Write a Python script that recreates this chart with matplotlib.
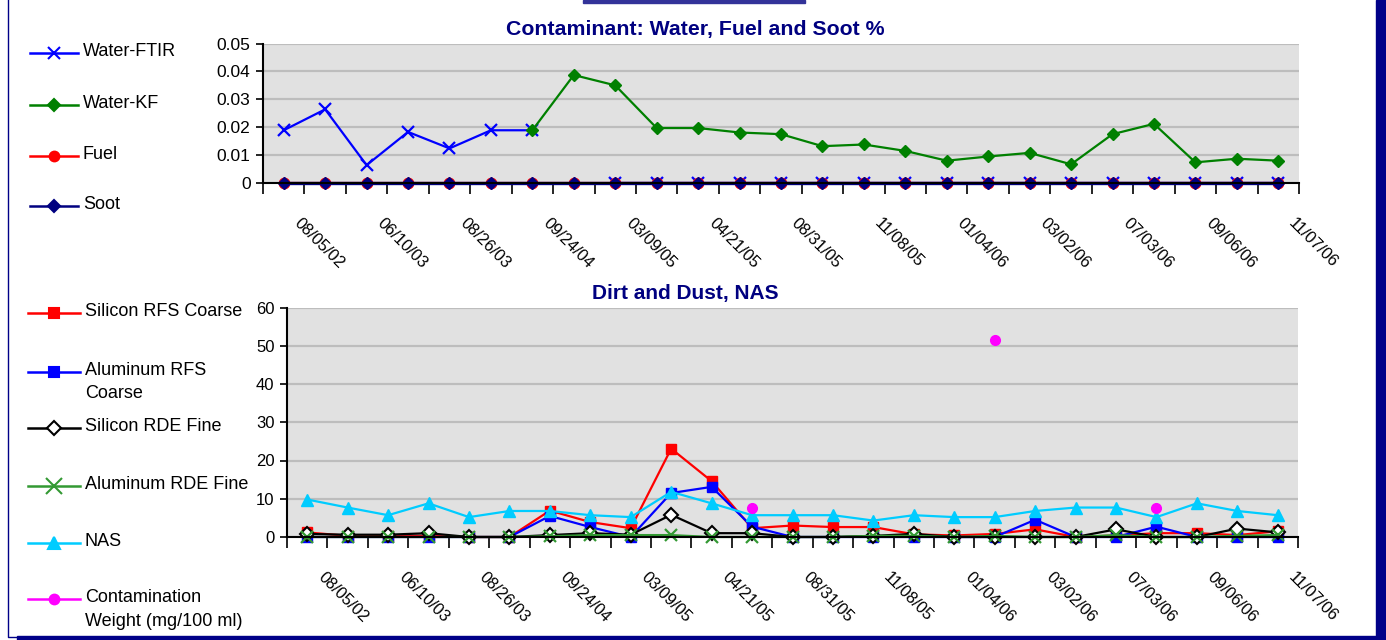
import numpy as np
import matplotlib.pyplot as plt
from matplotlib.lines import Line2D
from matplotlib.patches import Rectangle
from matplotlib.transforms import ScaledTranslation

plt.rcParams['font.family'] = ['Liberation Sans', 'DejaVu Sans']

nan = np.nan

# sample index 0..24, every second one carries a date label
date_labels = ['08/05/02', '06/10/03', '08/26/03', '09/24/04', '03/09/05', '04/21/05',
               '08/31/05', '11/08/05', '01/04/06', '03/02/06', '07/03/06', '09/06/06', '11/07/06']
samples = np.arange(25)

# --- top chart: contaminant %
water_ftir = [0.0189, 0.0264, 0.0064, 0.0183, 0.0124, 0.0189, 0.0189, nan, 0, 0, 0, 0, 0,
              0, 0, 0, 0, 0, 0, 0, 0, 0, 0, 0, 0]
water_kf = [nan, nan, nan, nan, nan, nan, 0.0189, 0.0387, 0.0350, 0.0197, 0.0197, 0.0181, 0.0175,
            0.0132, 0.0138, 0.0115, 0.0080, 0.0095, 0.0108, 0.0067, 0.0175, 0.0212, 0.0074, 0.0087, 0.0080]
fuel = [0, 0, 0, 0, 0, 0, 0, 0, 0, 0, 0, 0, 0, 0, 0, 0, 0, 0, 0, 0, 0, 0, 0, 0, 0]
soot = [0, 0, 0, 0, 0, 0, 0, 0, 0, 0, 0, 0, 0, 0, 0, 0, 0, 0, 0, 0, 0, 0, 0, 0, 0]
top_yticks = [0, 0.01, 0.02, 0.03, 0.04, 0.05]
top_ylabels = ['0', '0.01', '0.02', '0.03', '0.04', '0.05']

# --- bottom chart: dirt and dust
si_rfs = [1.2, 0.3, 0.3, 0.3, 0, 0, 6.9, 3.9, 2.3, 23.1, 14.6, 2.3, 3.0,
          2.6, 2.6, 0.7, 0.4, 0.8, 2.0, 0, 0.4, 1.0, 1.0, 0.5, 1.5]
al_rfs = [0, 0, 0, 0, 0, 0, 5.5, 2.6, 0, 11.5, 13.1, 2.7, 0,
          0, 0, 0, 0, 0, 4.5, 0, 0, 2.7, 0, 0, 0]
si_rde = [0.8, 0.6, 0.6, 1.0, 0, 0, 0.5, 1.0, 0.6, 5.8, 1.0, 1.0, 0,
          0, 0.3, 0.8, 0, 0, 0, 0, 2.0, 0, 0, 2.2, 1.2]
al_rde = [0, 0, 0, 0, 0, 0, 0.2, 0.5, 0.5, 0.5, 0, 0, 0,
          0, 0.3, 0.3, 0, 0.3, 0, 0, 0.5, 0, 0, 0.3, 0.5]
nas = [9.8, 7.7, 5.7, 8.8, 5.2, 6.8, 6.8, 5.7, 5.2, 11.8, 8.8, 5.7, 5.7,
       5.7, 4.3, 5.7, 5.2, 5.2, 6.8, 7.7, 7.7, 5.2, 8.8, 6.8, 5.7]
contam = [nan, nan, nan, nan, nan, nan, nan, nan, nan, nan, nan, 7.7, nan,
          nan, nan, nan, nan, 51.4, nan, nan, nan, 7.7, nan, nan, nan]
bot_yticks = [0, 10, 20, 30, 40, 50, 60]

W, H = 1386, 640
fig = plt.figure(figsize=(W / 100, H / 100), dpi=100)


def px_axes(x0, y0, x1, y1):
    return fig.add_axes([x0 / W, 1 - y1 / H, (x1 - x0) / W, (y1 - y0) / H])


def style_axes(ax, yticks, ylabels, ysize):
    ax.set_facecolor('#e1e1e1')
    ax.set_xlim(-0.5, 24.5)
    ax.set_ylim(yticks[0], yticks[-1])
    ax.set_yticks(yticks, ylabels, fontsize=ysize)
    ax.grid(axis='y', color='#bdbdbd', lw=1.6)
    ax.set_axisbelow(True)
    for s in ['top', 'right']:
        ax.spines[s].set_visible(False)
    ax.spines['left'].set_linewidth(1.5)
    ax.spines['bottom'].set_linewidth(1.5)
    ax.tick_params(axis='y', direction='out', length=5, width=1.2, pad=4)
    # tick marks between categories, labels on every second category
    ax.set_xticks(np.arange(-0.5, 25, 1), [''] * 26)
    ax.tick_params(axis='x', which='major', direction='out', length=8, width=1.2)
    ax.set_xticks(samples[::2], date_labels, minor=True, rotation=-45,
                  ha='left', va='center', rotation_mode='anchor', fontsize=11.8)
    ax.tick_params(axis='x', which='minor', length=0, pad=27)
    off = ScaledTranslation(0.13, 0, fig.dpi_scale_trans)
    for lab in ax.get_xticklabels(minor=True):
        lab.set_transform(lab.get_transform() + off)


# top chart
ax1 = px_axes(263, 43.5, 1299, 183)
style_axes(ax1, top_yticks, top_ylabels, 12.5)
ax1.plot(samples, water_ftir, color='#0000ff', lw=1.6, marker='x', ms=8, mew=1.6)
ax1.plot(samples, water_kf, color='#008000', lw=1.6, marker='D', ms=6.5)
ax1.plot(samples, fuel, color='#ff0000', lw=1.6, marker='o', ms=7.5, clip_on=False)
ax1.plot(samples, soot, color='#000080', lw=2.4, marker='D', ms=6.5, clip_on=False)

# bottom chart
ax2 = px_axes(287, 307.5, 1298, 537)
style_axes(ax2, bot_yticks, [str(v) for v in bot_yticks], 12)
ax2.plot(samples, si_rfs, color='#ff0000', lw=1.6, marker='s', ms=7, clip_on=False)
ax2.plot(samples, al_rfs, color='#0000ff', lw=1.6, marker='s', ms=7, clip_on=False)
ax2.plot(samples, si_rde, color='#000000', lw=1.6, marker='D', ms=7, mfc='white', mew=1.5, clip_on=False)
ax2.plot(samples, al_rde, color='#339933', lw=1.6, marker='x', ms=9, mew=1.6, clip_on=False)
ax2.plot(samples, nas, color='#00ccff', lw=1.6, marker='^', ms=8, clip_on=False)
ax2.plot(samples, contam, color='#ff00ff', lw=1.6, marker='o', ms=7, ls='none')

fig.text(695 / W, 1 - 30 / H, 'Contaminant: Water, Fuel and Soot %', ha='center', va='center',
         fontsize=15.3, fontweight='bold', color='#000080')
fig.text(685 / W, 1 - 294 / H, 'Dirt and Dust, NAS', ha='center', va='center',
         fontsize=15, fontweight='bold', color='#000080')


def legend_entry(y, color, marker, label, ms=7, mfc=None, mew=1.5, x0=30, x1=78, tx=83):
    yf = 1 - y / H
    fig.add_artist(Line2D([x0 / W, (x0 + x1) / 2 / W, x1 / W], [yf, yf, yf], color=color, lw=1.8,
                          marker=marker, markevery=[1], ms=ms, mew=mew,
                          mfc=mfc if mfc else color, transform=fig.transFigure))
    # multi-line labels hang from the key line, first line level with it
    fig.text(tx / W, yf + 10 / H, label, ha='left', va='top', fontsize=13, color='black',
             linespacing=1.5)


legend_entry(53, '#0000ff', 'x', 'Water-FTIR', ms=8)
legend_entry(105, '#008000', 'D', 'Water-KF', ms=6)
legend_entry(156, '#ff0000', 'o', 'Fuel')
legend_entry(206, '#000080', 'D', 'Soot', ms=6)

legend_entry(313, '#ff0000', 's', 'Silicon RFS Coarse', x0=28, x1=80, tx=85)
legend_entry(372, '#0000ff', 's', 'Aluminum RFS\nCoarse', x0=28, x1=80, tx=85)
legend_entry(428, '#000000', 'D', 'Silicon RDE Fine', mfc='white', x0=28, x1=80, tx=85)
legend_entry(486, '#339933', 'x', 'Aluminum RDE Fine', ms=11, x0=28, x1=80, tx=85)
legend_entry(543, '#00ccff', '^', 'NAS', ms=8, x0=28, x1=80, tx=85)
legend_entry(599, '#ff00ff', 'o', 'Contamination\nWeight (mg/100 ml)', x0=28, x1=80, tx=85)

# frame decorations
fig.add_artist(Rectangle((583 / W, 1 - 3 / H), 222 / W, 3 / H, color='#333399', transform=fig.transFigure))
fig.add_artist(Rectangle((1376 / W, 0), 10 / W, 1, color='#000088', transform=fig.transFigure))
fig.add_artist(Rectangle((17 / W, 0), 1370 / W, 4 / H, color='#000088', transform=fig.transFigure))
fig.add_artist(Line2D([8 / W, 8 / W, 17 / W], [1, 3 / H, 3 / H], color='#000088', lw=1,
                      transform=fig.transFigure))

fig.savefig('out.png', dpi=100)
